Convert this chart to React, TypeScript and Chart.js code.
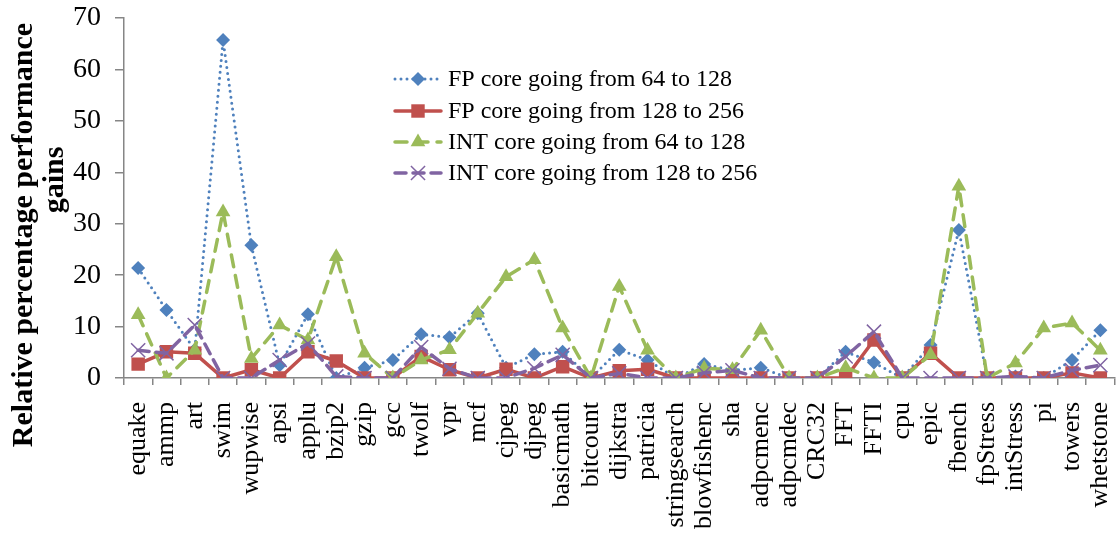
import React, { useEffect, useRef } from 'react';
import { Chart, registerables } from 'chart.js';
Chart.register(...registerables);

const categories = ['equake', 'ammp', 'art', 'swim', 'wupwise', 'apsi', 'applu', 'bzip2', 'gzip', 'gcc', 'twolf', 'vpr', 'mcf', 'cjpeg', 'djpeg', 'basicmath', 'bitcount', 'dijkstra', 'patricia', 'stringsearch', 'blowfishenc', 'sha', 'adpcmenc', 'adpcmdec', 'CRC32', 'FFT', 'FFTI', 'cpu', 'epic', 'fbench', 'fpStress', 'intStress', 'pi', 'towers', 'whetstone'];

const fp64to128 = [21.4, 13.2, 5.5, 65.7, 25.8, 2.5, 12.4, 0, 2, 3.5, 8.5, 7.9, 12.6, 2, 4.6, 5.1, 0, 5.5, 3.5, 0, 2.7, 1.5, 2, 0, 0, 5.1, 3, 0, 6.4, 28.8, 0, 0.3, 0, 3.5, 9.3];
const fp128to256 = [2.7, 5.1, 4.8, 0, 1.6, 0, 5.1, 3.3, 0, 0, 4.2, 1.6, 0, 1.7, 0, 2.2, 0, 1.4, 1.7, 0, 0, 0, 0, 0, 0, 0, 7.4, 0, 4.8, 0, 0, 0, 0, 1, 0];
const int64to128 = [12.3, 0, 5.4, 32.3, 3.8, 10.3, 7.4, 23.6, 4.8, 0, 3.5, 5.5, 12.6, 19.7, 23, 9.7, 0, 17.8, 5.4, 0, 1.9, 1.6, 9.3, 0, 0, 2, 0, 0, 4.5, 37.3, 0, 2.9, 9.7, 10.7, 5.4];
const int128to256 = [5.4, 4.8, 10.3, 0, 0, 3.5, 6.7, 0.3, 0, 0, 6, 1.8, 0, 0, 1.9, 4.5, 0, 0.9, 0, 0, 1, 1.5, 0, 0, 0, 4.2, 9, 0, 0, 0, 0, 0.3, 0, 1.5, 2.5];

const seriesLabels = ['FP core going from 64 to 128', 'FP core going from 128 to 256', 'INT core going from 64 to 128', 'INT core going from 128 to 256'];
const yTitle = ['Relative percentage performance', 'gains'];

const BLUE = '#4F81BD';
const RED = '#C0504D';
const GREEN = '#9BBB59';
const PURPLE = '#8064A2';
const AXIS = '#868686';
const FONT = '"Liberation Serif", "Times New Roman", serif';

const styles = [
  { color: BLUE, dash: [0, 6], width: 3, point: 'rectRot', radius: 7 },
  { color: RED, dash: [], width: 3.5, point: 'rect', radius: 9.5 },
  { color: GREEN, dash: [12, 9], width: 3.5, point: 'triangle', radius: 8.5 },
  { color: PURPLE, dash: [11, 7], width: 3.5, point: 'crossRot', radius: 10 },
];

function drawMarker(ctx: CanvasRenderingContext2D, type: string, x: number, y: number, r: number, color: string) {
  ctx.save();
  ctx.setLineDash([]);
  ctx.fillStyle = color;
  ctx.strokeStyle = color;
  ctx.beginPath();
  if (type === 'rectRot') {
    ctx.moveTo(x, y - r); ctx.lineTo(x + r, y); ctx.lineTo(x, y + r); ctx.lineTo(x - r, y); ctx.closePath(); ctx.fill();
  } else if (type === 'rect') {
    const s = r * Math.SQRT1_2;
    ctx.rect(x - s, y - s, 2 * s, 2 * s); ctx.fill();
  } else if (type === 'triangle') {
    const h = r * Math.sin(Math.PI / 3);
    ctx.moveTo(x, y - r); ctx.lineTo(x + h, y + r / 2); ctx.lineTo(x - h, y + r / 2); ctx.closePath(); ctx.fill();
  } else {
    const d = r * Math.SQRT1_2;
    ctx.lineWidth = 1.5;
    ctx.moveTo(x - d, y - d); ctx.lineTo(x + d, y + d);
    ctx.moveTo(x + d, y - d); ctx.lineTo(x - d, y + d);
    ctx.stroke();
  }
  ctx.restore();
}

const legendPlugin = {
  id: 'customLegend',
  afterDraw(chart: any) {
    const ctx: CanvasRenderingContext2D = chart.ctx;
    const rowsY = [79, 111, 142, 173];
    const x0 = 395, x1 = 441, tx = 448;
    seriesLabels.forEach((label, i) => {
      const s = styles[i];
      const y = rowsY[i];
      ctx.save();
      ctx.strokeStyle = s.color;
      ctx.lineWidth = s.width;
      ctx.lineCap = 'round';
      ctx.setLineDash(s.dash);
      ctx.beginPath();
      ctx.moveTo(x0, y);
      ctx.lineTo(x1, y);
      ctx.stroke();
      ctx.restore();
      drawMarker(ctx, s.point, (x0 + x1) / 2, y, s.radius, s.color);
      ctx.save();
      ctx.fillStyle = '#000';
      ctx.font = `24px ${FONT}`;
      ctx.textBaseline = 'middle';
      ctx.textAlign = 'left';
      ctx.fillText(label, tx, y + 1);
      ctx.restore();
    });
    // y-axis title (two lines, rotated)
    const titlePos = [{ x: 24, y: 235 }, { x: 55, y: 180 }];
    yTitle.forEach((line, i) => {
      ctx.save();
      ctx.translate(titlePos[i].x, titlePos[i].y);
      ctx.rotate(-Math.PI / 2);
      ctx.fillStyle = '#000';
      ctx.font = `bold 30px ${FONT}`;
      ctx.textAlign = 'center';
      ctx.textBaseline = 'middle';
      ctx.fillText(line, 0, 0);
      ctx.restore();
    });
  },
};

const CANVAS_W = 1126;
const CANVAS_H = 533;

export default function App() {
  const ref = useRef<HTMLCanvasElement>(null);
  useEffect(() => {
    const values = [fp64to128, fp128to256, int64to128, int128to256];
    const chart = new Chart(ref.current as HTMLCanvasElement, {
      type: 'line',
      data: {
        labels: categories,
        datasets: values.map((v, i) => ({
          label: seriesLabels[i],
          data: v,
          borderColor: styles[i].color,
          backgroundColor: styles[i].color,
          borderWidth: styles[i].width,
          borderDash: styles[i].dash,
          borderCapStyle: 'round',
          borderJoinStyle: 'round',
          pointStyle: styles[i].point,
          pointRadius: styles[i].radius,
          pointBorderWidth: i === 3 ? 1.5 : 0,
          pointBorderColor: styles[i].color,
          pointBackgroundColor: styles[i].color,
          fill: false,
          tension: 0,
          order: 4 - i,
        })) as any,
      },
      options: {
        animation: false,
        responsive: false,
        maintainAspectRatio: false,
        layout: { padding: { top: 18, right: 0, left: 0, bottom: 0 } },
        plugins: { legend: { display: false }, tooltip: { enabled: false } },
        scales: {
          x: {
            offset: true,
            grid: { offset: true, drawOnChartArea: false, drawTicks: true, tickLength: 7, color: AXIS, lineWidth: 1.5 },
            border: { color: AXIS, width: 1.5 },
            ticks: { autoSkip: false, minRotation: 90, maxRotation: 90, color: '#000', padding: 17, font: { family: FONT, size: 26 } },
            afterFit: (s: any) => { s.height = 155; s.paddingLeft = 0; s.paddingRight = 0; },
          },
          y: {
            min: 0,
            max: 70,
            ticks: { stepSize: 10, color: '#000', padding: 14, font: { family: FONT, size: 28 } },
            grid: { drawOnChartArea: false, drawTicks: true, tickLength: 9, color: AXIS, lineWidth: 1.5 },
            border: { color: AXIS, width: 1.5 },
            title: { display: false },
            afterFit: (s: any) => { s.width = 124; s.paddingTop = 0; s.paddingBottom = 0; },
          },
        },
      } as any,
      plugins: [legendPlugin],
    });
    return () => chart.destroy();
  }, []);
  return (
    <div style={{ position: 'fixed', left: 0, top: 0, width: 1118, height: 533, overflow: 'hidden', background: '#fff' }}>
      <canvas ref={ref} width={CANVAS_W} height={CANVAS_H} style={{ width: CANVAS_W, height: CANVAS_H, display: 'block' }} />
    </div>
  );
}
